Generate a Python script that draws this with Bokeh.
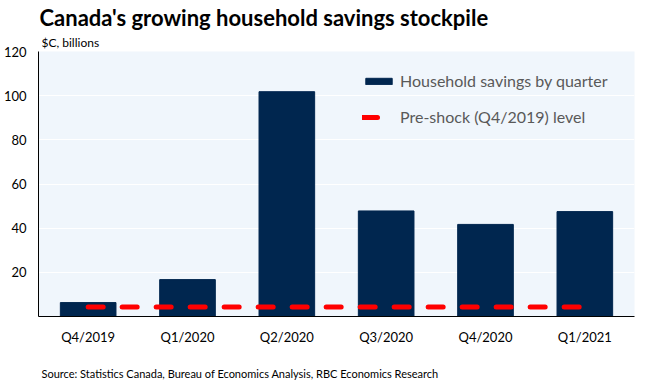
from bokeh.plotting import figure
from bokeh.models import Range1d, FixedTicker, Title, Legend, LegendItem
from bokeh.embed import file_html
from bokeh.resources import INLINE

quarters = ["Q4/2019", "Q1/2020", "Q2/2020", "Q3/2020", "Q4/2020", "Q1/2021"]
savings = [6.3, 16.7, 101.8, 47.8, 41.7, 47.5]
preshock = 4.3
y_ticks = [20, 40, 60, 80, 100, 120]

FONT = "Lato"

p = figure(x_range=quarters, y_range=Range1d(0, 120),
           frame_width=596, frame_height=265,
           output_backend="svg", toolbar_location=None, title=None,
           min_border_left=27, min_border_right=12, min_border_top=47, min_border_bottom=0)

p.background_fill_color = "#F0F6FC"
p.border_fill_color = "white"
p.outline_line_color = None

bars = p.vbar(x=quarters, top=savings, width=0.56, color="#00264F")
line = p.line(x=quarters, y=[preshock] * len(quarters), line_color="#FF0000",
              line_width=5, line_dash="15 19", line_cap="round")

p.xgrid.grid_line_color = None
p.ygrid.grid_line_color = "white"
p.ygrid.grid_line_width = 1
p.ygrid.ticker = FixedTicker(ticks=y_ticks)

p.yaxis.ticker = FixedTicker(ticks=y_ticks)
p.yaxis.axis_line_color = "black"
p.yaxis.major_tick_line_color = None
p.yaxis.minor_tick_line_color = None
p.yaxis.major_label_text_font = FONT
p.yaxis.major_label_text_font_size = "13px"
p.yaxis.major_label_text_color = "black"
p.yaxis.major_label_standoff = 6

p.xaxis.axis_line_color = "black"
p.xaxis.major_tick_line_color = None
p.xaxis.minor_tick_line_color = None
p.xaxis.major_label_text_font = FONT
p.xaxis.major_label_text_font_size = "13px"
p.xaxis.major_label_text_color = "black"
p.xaxis.major_label_standoff = 6

legend = Legend(items=[
    LegendItem(label="Household savings by quarter", renderers=[bars]),
    LegendItem(label="Pre-shock (Q4/2019) level", renderers=[line]),
], location=(314, 180))
legend.background_fill_alpha = 0
legend.border_line_alpha = 0
legend.label_text_font = FONT
legend.label_text_font_size = "16px"
legend.label_text_color = "#595959"
legend.glyph_width = 33
legend.glyph_height = 8
legend.label_height = 8
legend.label_standoff = 5
legend.spacing = 17
legend.padding = 10
legend.margin = 0
p.add_layout(legend)

sub = Title(text="$C, billions", align="left", text_font=FONT, text_font_size="12px",
            text_font_style="normal", text_color="black", offset=3, standoff=3)
p.add_layout(sub, "above")
main = Title(text="Canada's growing household savings stockpile", align="left",
             text_font=FONT, text_font_size="22px", text_font_style="bold",
             text_color="black", offset=1, standoff=2)
p.add_layout(main, "above")

src = Title(text="Source: Statistics Canada, Bureau of Economics Analysis, RBC Economics Research",
            align="left", text_font=FONT, text_font_size="11px", text_font_style="normal",
            text_color="black", offset=3, standoff=34)
p.add_layout(src, "below")

open("out.html", "w").write(file_html(p, INLINE))
